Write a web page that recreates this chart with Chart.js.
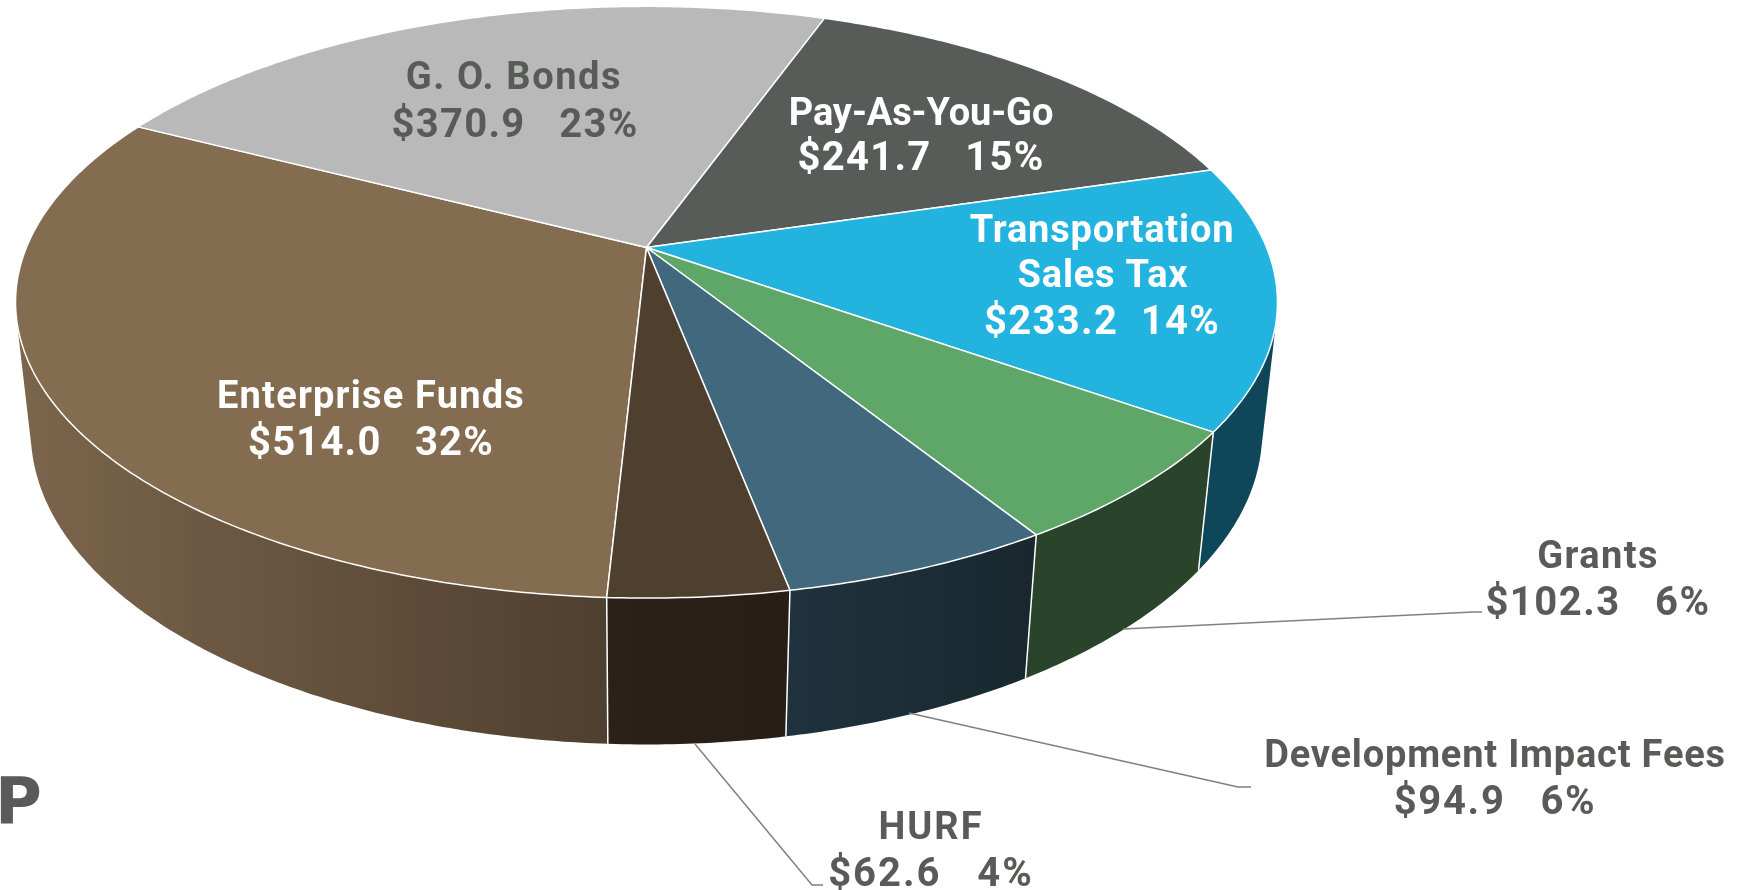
<!DOCTYPE html>
<html><head><meta charset="utf-8">
<style>html,body{margin:0;padding:0;background:#fff;overflow:hidden}canvas{display:block}</style>
<script src="https://cdn.jsdelivr.net/npm/chart.js@4/dist/chart.umd.js"></script>
</head><body>
<canvas id="c" width="1756" height="890"></canvas>
<script>
const categories = ["Enterprise Funds","G. O. Bonds","Pay-As-You-Go","Transportation Sales Tax","Grants","Development Impact Fees","HURF"];
const amounts = [514.0,370.9,241.7,233.2,102.3,94.9,62.6];
const percents = ["32%","23%","15%","14%","6%","6%","4%"];
const topColors = ["#846c50","#b9b9b9","#585c58","#22b3df","#5fa768","#41687d","#4f3f2f"];
const wallLeft  = ["#7b654c","#8a8a8a","#3a3d3a","#0e4759","#29442b","#1f323d","#2c2119"];
const wallRight = ["#4f3f2f","#8a8a8a","#3a3d3a","#0e4759","#29442b","#19282f","#291e16"];

// Perspective view of the flat pie (all ratios relative to the pie radius)
const VIEW = {S:2.513, s:1.158, d:0.532, p:0.1849, q:0.024};
function project(el, a, z){
  const x=Math.cos(a), y=Math.sin(a), w=1-VIEW.p*y+VIEW.q*z, r=el.outerRadius;
  return [el.x+r*VIEW.S*x/w, el.y+r*(VIEW.s*y+VIEW.d*z)/w];
}
function arcPoints(el, z){
  const n=Math.max(8,Math.ceil((el.endAngle-el.startAngle)/0.01)), pts=[];
  for(let i=0;i<=n;i++) pts.push(project(el, el.startAngle+(el.endAngle-el.startAngle)*i/n, z));
  return pts;
}
function quadArea(q){
  let s=0;
  q.forEach((p,i)=>{const n=q[(i+1)%q.length]; s+=p[0]*n[1]-n[0]*p[1];});
  return s;
}
// Slices are drawn through Chart.js arc elements, in perspective
Chart.elements.ArcElement.prototype.draw = function(ctx){
  const o=this.options;
  ctx.save();
  ctx.beginPath();
  ctx.moveTo(this.x,this.y);
  arcPoints(this,0).forEach(p=>ctx.lineTo(p[0],p[1]));
  ctx.closePath();
  ctx.fillStyle=o.backgroundColor; ctx.fill();
  ctx.lineJoin="round"; ctx.strokeStyle=o.borderColor; ctx.lineWidth=o.borderWidth; ctx.stroke();
  ctx.restore();
};
const walls = {
  id:"walls",
  beforeDatasetsDraw(chart){
    const ctx=chart.ctx;
    const meta=chart.getDatasetMeta(0).data;
    meta.forEach((el,i)=>{
      const top=arcPoints(el,0), bot=arcPoints(el,1);
      const xs=top.concat(bot).map(p=>p[0]);
      const g=ctx.createLinearGradient(Math.min(...xs),0,Math.max(...xs),0);
      g.addColorStop(0,wallLeft[i]); g.addColorStop(1,wallRight[i]);
      ctx.save();
      ctx.beginPath();
      for(let k=0;k<top.length-1;k++){
        let q=[top[k],top[k+1],bot[k+1],bot[k]];
        if(quadArea(q)<0) q=q.reverse();
        q.forEach((p,j)=>j?ctx.lineTo(p[0],p[1]):ctx.moveTo(p[0],p[1]));
        ctx.closePath();
      }
      ctx.fillStyle=g; ctx.fill();
      ctx.restore();
    });
    meta.forEach(el=>{
      if(Math.sin(el.startAngle)<0.2) return;
      const t=project(el,el.startAngle,0), b=project(el,el.startAngle,1);
      ctx.save();
      ctx.strokeStyle="#ffffff"; ctx.lineWidth=1.5;
      ctx.beginPath(); ctx.moveTo(t[0],t[1]); ctx.lineTo(b[0],b[1]); ctx.stroke();
      ctx.restore();
    });
  }
};
const GRAY="#595b59", WHITE="#ffffff";
const NAME="700 38px Roboto", NUM="700 40px Roboto";
const textLines = [
  ["Enterprise Funds",371,408,WHITE,NAME,"1.2px"],["$514.0   32%",371,455,WHITE,NUM,"1.2px"],
  ["G. O. Bonds",514,89,GRAY,NAME,"1.6px"],["$370.9   23%",515,137,GRAY,NUM,"1.3px"],
  ["Pay-As-You-Go",921,125,WHITE,NAME,"-0.1px"],["$241.7   15%",921,170,WHITE,NUM,"1.3px"],
  ["Transportation",1102,242,WHITE,NAME,"0.8px"],["Sales Tax",1103,287,WHITE,NAME,"0.8px"],["$233.2  14%",1102,334,WHITE,NUM,"1.3px"],
  ["Grants",1598,568,GRAY,NAME,"1.4px"],["$102.3   6%",1598,615,GRAY,NUM,"1.5px"],
  ["Development Impact Fees",1495,767,GRAY,NAME,"0.8px"],["$94.9   6%",1495,814,GRAY,NUM,"1.7px"],
  ["HURF",931,839,GRAY,NAME,"2px"],["$62.6   4%",931,886,GRAY,NUM,"2px"]
];
const leaders = [
  [[1123,629],[1473,612],[1482,612]],
  [[909,713],[1238,787],[1251,787]],
  [[695,744],[812,885],[823,885]]
];
const labels = {
  id:"labels",
  afterDatasetsDraw(chart){
    const ctx=chart.ctx;
    ctx.save();
    ctx.strokeStyle="#808080"; ctx.lineWidth=1.5;
    leaders.forEach(l=>{ctx.beginPath();l.forEach((p,k)=>k?ctx.lineTo(p[0],p[1]):ctx.moveTo(p[0],p[1]));ctx.stroke();});
    ctx.textAlign="center"; ctx.textBaseline="alphabetic";
    textLines.forEach(t=>{ctx.font=t[4];ctx.letterSpacing=t[5];ctx.fillStyle=t[3];ctx.fillText(t[0],t[1],t[2]);});
    ctx.textAlign="left"; ctx.letterSpacing="0px";
    ctx.font="700 64px 'DejaVu Sans'"; ctx.fillStyle=GRAY; ctx.fillText("P",-5,823);
    ctx.restore();
  }
};
new Chart(document.getElementById("c"),{
  type:"pie",
  data:{labels:categories,datasets:[{data:amounts,backgroundColor:topColors,borderColor:"#ffffff",borderWidth:1.5,clip:false}]},
  options:{
    responsive:false,animation:false,rotation:183,
    layout:{padding:{left:0,top:0,right:463,bottom:395}},
    plugins:{legend:{display:false},tooltip:{enabled:false},title:{display:false}}
  },
  plugins:[walls,labels]
});
</script>
</body></html>
